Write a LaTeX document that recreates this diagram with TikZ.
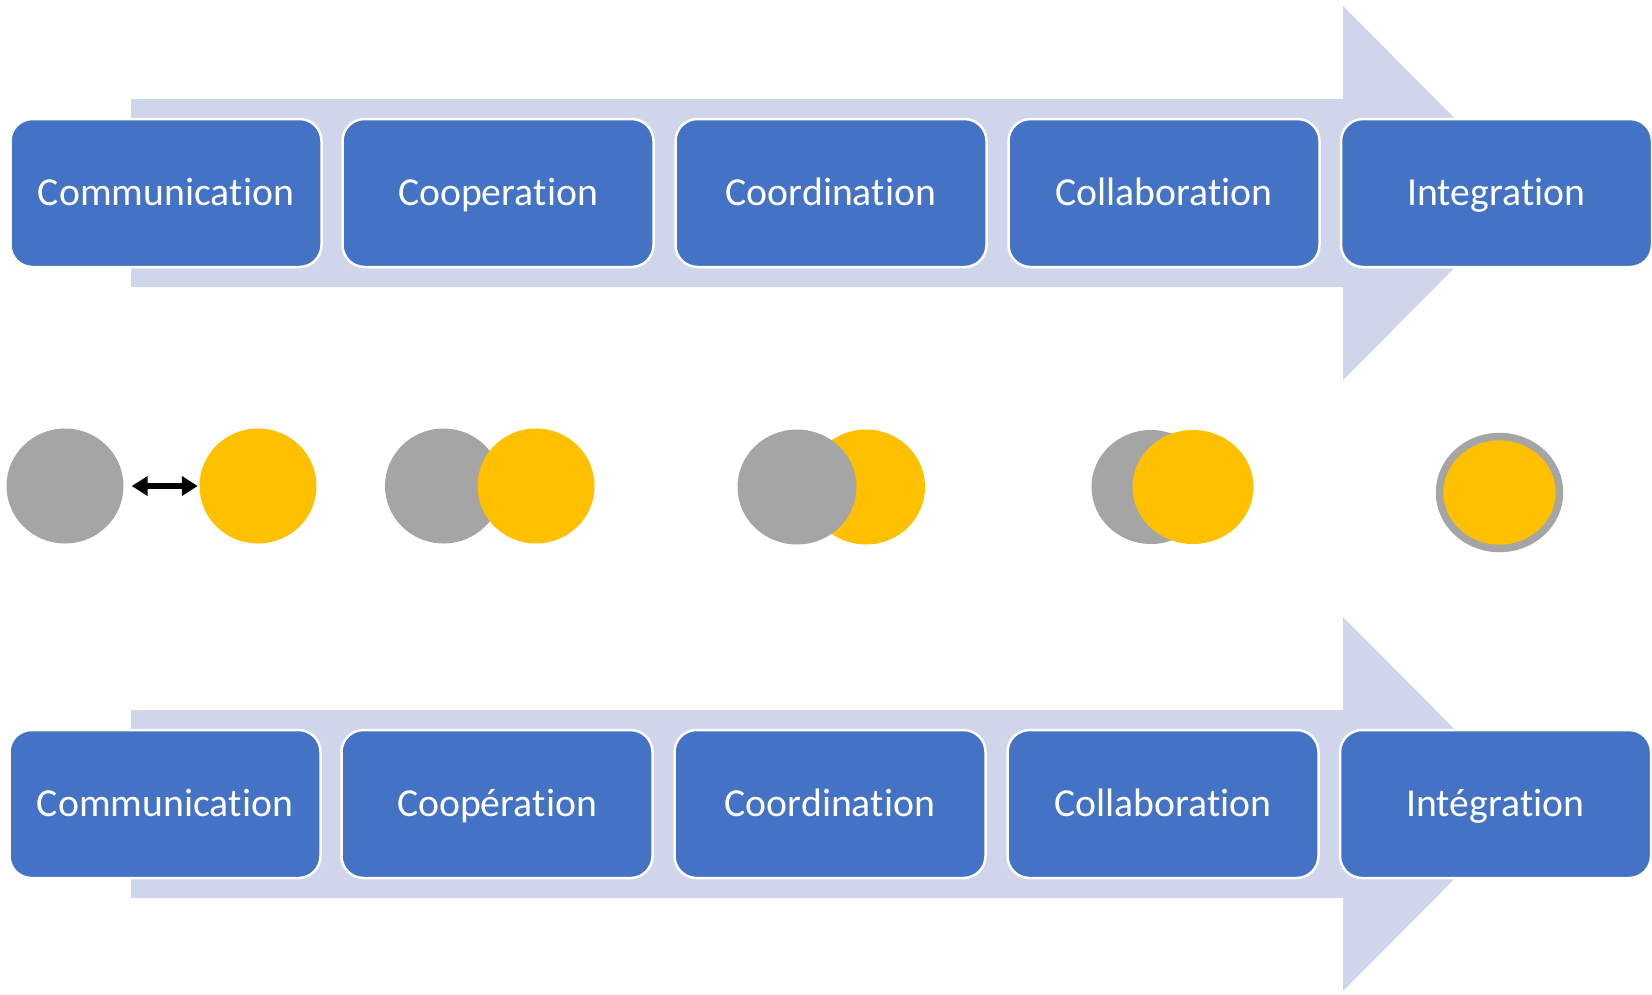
\documentclass[tikz,border=0pt]{standalone}
\usepackage{fontspec}
\setmainfont[RawFeature={-liga;-clig;-calt;-dlig}]{Carlito}
\usetikzlibrary{shapes.geometric,arrows.meta}
\definecolor{boxblue}{HTML}{4472C4}
\definecolor{band}{HTML}{CFD5EA}
\definecolor{cgray}{HTML}{A5A5A5}
\definecolor{cyellow}{HTML}{FFC000}
\tikzset{
  stagebox/.style={rounded corners=22pt, fill=boxblue, draw=white, line width=2.5pt,
    minimum width=311pt, minimum height=148pt, inner sep=0pt, text=white,
    text height=32pt, text depth=7pt,
    font=\fontsize{39.7}{47}\selectfont},
  bandarrow/.style={fill=band, draw=none},
  gdisc/.style={ellipse, fill=cgray, inner sep=0pt, minimum width=117pt, minimum height=115pt},
  ydisc/.style={ellipse, fill=cyellow, inner sep=0pt, minimum width=117pt, minimum height=115pt},
  dbl/.style={{Triangle[length=16pt,width=19pt]}-{Triangle[length=16pt,width=19pt]}, line width=5.5pt, black}
}
\begin{document}
\begin{tikzpicture}[x=1pt,y=-1pt]
\useasboundingbox (0,0) rectangle (1652,994);
% top band arrow
\fill[bandarrow] (131,99) -- (1343,99) -- (1343,6) -- (1529,193) -- (1343,380) -- (1343,287) -- (131,287) -- cycle;
% bottom band arrow
\fill[bandarrow] (131,710) -- (1343,710) -- (1343,617) -- (1529,804) -- (1343,991) -- (1343,898) -- (131,898) -- cycle;
% top row boxes
\node[stagebox] (t1) at (166,193) {Communica\kern0pt tion};
\node[stagebox] (t2) at (498,193) {Coopera\kern0pt tion};
\node[stagebox] (t3) at (831,193) {Coordina\kern0pt tion};
\node[stagebox] (t4) at (1164,193) {Collabora\kern0pt tion};
\node[stagebox] (t5) at (1496.5,193) {Integra\kern0pt tion};
% bottom row boxes
\node[stagebox] (b1) at (165,804) {Communica\kern0pt tion};
\node[stagebox] (b2) at (497,804) {Coopéra\kern0pt tion};
\node[stagebox] (b3) at (830,804) {Coordina\kern0pt tion};
\node[stagebox] (b4) at (1163,804) {Collabora\kern0pt tion};
\node[stagebox] (b5) at (1495.5,804) {Intégra\kern0pt tion};
% circles
\node[gdisc] (g1) at (65,486) {};
\node[ydisc] (y1) at (258,486) {};
\draw[dbl] ([xshift=8pt]g1.east) -- ([xshift=-1.5pt]y1.west);
\node[gdisc] (g2) at (443.5,486) {};
\node[ydisc] (y2) at (536,486) {};
\node[ydisc, minimum width=118pt] (y3) at (866,487) {};
\node[gdisc, minimum width=119pt] (g3) at (797,487) {};
\node[gdisc, minimum width=119pt, minimum height=114pt] (g4) at (1151,487) {};
\node[ydisc, minimum width=121pt, minimum height=114pt] (y4) at (1193,487) {};
\node[ellipse, fill=cyellow, draw=cgray, line width=7.5pt, inner sep=0pt,
  minimum width=120pt, minimum height=112pt] (i5) at (1499.5,492.5) {};
\end{tikzpicture}
\end{document}
